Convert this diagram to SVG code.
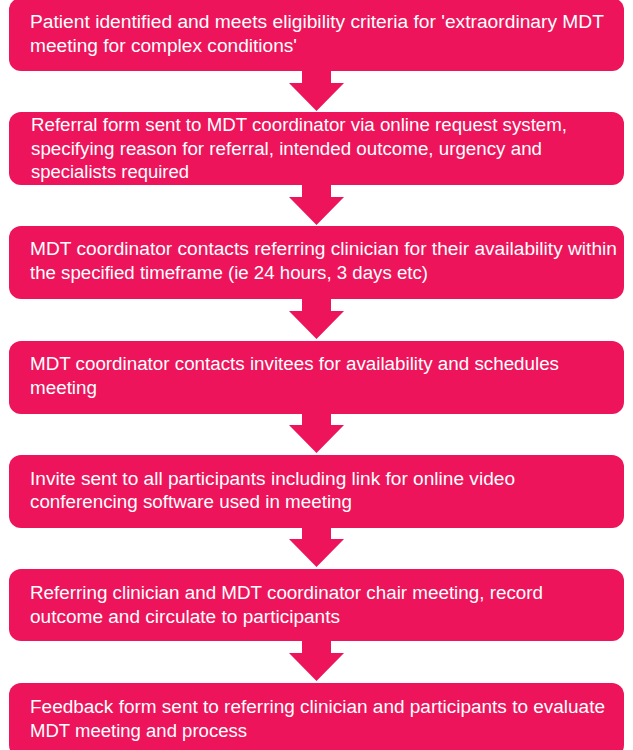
<svg xmlns="http://www.w3.org/2000/svg" width="633" height="750" viewBox="0 0 633 750">
<style>
.box{fill:#ED145B}
.arr{fill:#ED145B}
text{font-family:"Liberation Sans",Arial,sans-serif;font-size:18px;fill:#ffffff}
</style>
<rect width="633" height="750" fill="#ffffff"/>
<g id="connectors">
<polygon class="arr" points="302,71 331,71 331,83 344,83 316.5,111 289,83 302,83"/>
<polygon class="arr" points="302,185 331,185 331,197 344,197 316.5,225 289,197 302,197"/>
<polygon class="arr" points="302,299 331,299 331,311 344,311 316.5,339 289,311 302,311"/>
<polygon class="arr" points="302,413 331,413 331,425 344,425 316.5,453 289,425 302,425"/>
<polygon class="arr" points="302,527 331,527 331,539 344,539 316.5,567 289,539 302,539"/>
<polygon class="arr" points="302,641 331,641 331,653 344,653 316.5,681 289,653 302,653"/>
</g>
<g id="n1">
<rect class="box" x="9" y="-2" width="615" height="73" rx="12"/>
<text x="30" y="28" textLength="574" lengthAdjust="spacingAndGlyphs">Patient identified and meets eligibility criteria for 'extraordinary MDT</text>
<text x="30" y="52" textLength="267" lengthAdjust="spacingAndGlyphs">meeting for complex conditions'</text>
</g>
<g id="n2">
<rect class="box" x="9" y="112" width="615" height="73" rx="12"/>
<text x="31" y="131" textLength="536" lengthAdjust="spacingAndGlyphs">Referral form sent to MDT coordinator via online request system,</text>
<text x="31" y="155" textLength="511" lengthAdjust="spacingAndGlyphs">specifying reason for referral, intended outcome, urgency and</text>
<text x="31" y="178" textLength="158" lengthAdjust="spacingAndGlyphs">specialists required</text>
</g>
<g id="n3">
<rect class="box" x="9" y="226" width="615" height="73" rx="12"/>
<text x="30" y="255" textLength="587" lengthAdjust="spacingAndGlyphs">MDT coordinator contacts referring clinician for their availability within</text>
<text x="30" y="279" textLength="398" lengthAdjust="spacingAndGlyphs">the specified timeframe (ie 24 hours, 3 days etc)</text>
</g>
<g id="n4">
<rect class="box" x="9" y="341" width="615" height="73" rx="12"/>
<text x="30" y="370" textLength="529" lengthAdjust="spacingAndGlyphs">MDT coordinator contacts invitees for availability and schedules</text>
<text x="30" y="394" textLength="67" lengthAdjust="spacingAndGlyphs">meeting</text>
</g>
<g id="n5">
<rect class="box" x="9" y="455" width="615" height="73" rx="12"/>
<text x="30" y="485" textLength="485" lengthAdjust="spacingAndGlyphs">Invite sent to all participants including link for online video</text>
<text x="30" y="508" textLength="322" lengthAdjust="spacingAndGlyphs">conferencing software used in meeting</text>
</g>
<g id="n6">
<rect class="box" x="9" y="569" width="615" height="72" rx="12"/>
<text x="30" y="599" textLength="513" lengthAdjust="spacingAndGlyphs">Referring clinician and MDT coordinator chair meeting, record</text>
<text x="30" y="623" textLength="310" lengthAdjust="spacingAndGlyphs">outcome and circulate to participants</text>
</g>
<g id="n7">
<rect class="box" x="9" y="683" width="615" height="74" rx="12"/>
<text x="30" y="713" textLength="575" lengthAdjust="spacingAndGlyphs">Feedback form sent to referring clinician and participants to evaluate</text>
<text x="30" y="737" textLength="217" lengthAdjust="spacingAndGlyphs">MDT meeting and process</text>
</g>
</svg>
